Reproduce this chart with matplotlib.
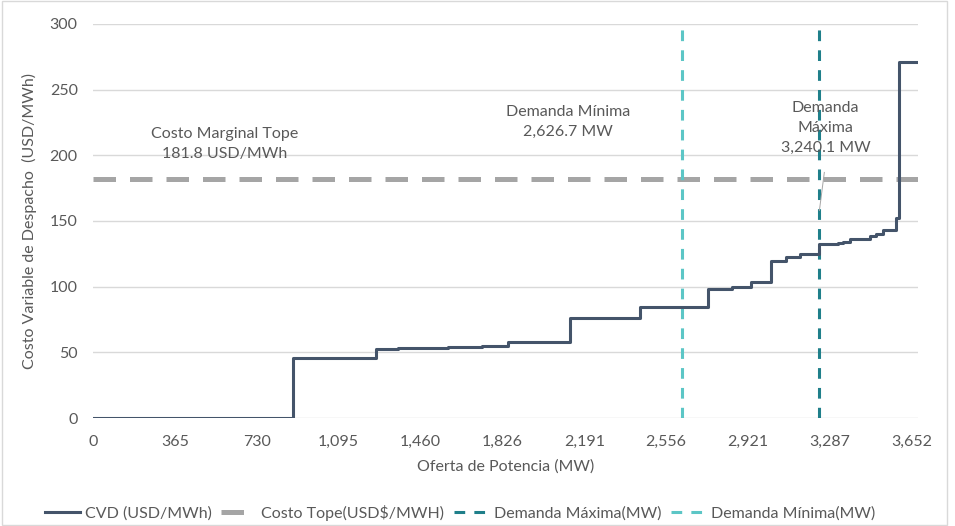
import matplotlib.pyplot as plt
from matplotlib.ticker import FuncFormatter

# step curve (MW, USD/MWh)
oferta = [0, 893, 1262, 1361, 1584, 1733, 1852, 2127, 2442, 2743, 2848, 2937,
          3023, 3093, 3152, 3238, 3323, 3345, 3375, 3467, 3494, 3523, 3583,
          3593, 3680]
cvd = [0, 45.4, 52.3, 53.5, 54.3, 55.1, 57.6, 75.9, 84.3, 98.0, 100.0, 103.3,
       119.5, 122.3, 124.6, 132.2, 133.0, 134.2, 136.3, 138.8, 139.9, 143.0,
       152.0, 271.0, 271.0]

costo_tope = 181.8
demanda_min = 2626.7
demanda_max = 3240.1
x_ticks = [0, 365, 730, 1095, 1460, 1826, 2191, 2556, 2921, 3287, 3652]

plt.rcParams['font.family'] = ['Lato', 'DejaVu Sans']
txt = '#595959'
fs = 11.5

fig = plt.figure(figsize=(9.55, 5.26), dpi=100)
ax = fig.add_axes([0.0974, 0.2053, 0.8639, 0.7491])

ax.step(oferta, cvd, where='post', color='#44546A', lw=2.2,
        label='CVD (USD/MWh)', zorder=4)
ax.plot([0, oferta[-1]], [costo_tope, costo_tope], color='#A5A5A5', lw=3.6,
        dashes=(4.5, 2.8), label='Costo Tope(USD$/MWH)', zorder=3)
ax.plot([demanda_max, demanda_max], [0, 300], color='#1F7F8A', lw=2.2,
        dashes=(3.5, 3), label='Demanda Máxima(MW)', zorder=3)
ax.plot([demanda_min, demanda_min], [0, 300], color='#5CC6C6', lw=2.2,
        dashes=(3.5, 3), label='Demanda Mínima(MW)', zorder=3)

ax.set_xlim(0, 3680)
ax.set_ylim(0, 300)
ax.set_xticks(x_ticks)
ax.xaxis.set_major_formatter(FuncFormatter(lambda v, p: f'{v:,.0f}'))
ax.set_yticks(range(0, 301, 50))
ax.grid(axis='y', color='#D9D9D9', lw=1)
ax.set_axisbelow(True)
for s in ax.spines.values():
    s.set_visible(False)
ax.tick_params(length=0, labelsize=fs, labelcolor=txt)
ax.tick_params(axis='x', pad=12)
ax.tick_params(axis='y', pad=11)

ax.set_xlabel('Oferta de Potencia (MW)', fontsize=fs, color=txt, labelpad=8)
ax.set_ylabel('Costo Variable de Despacho  (USD/MWh)', fontsize=fs,
              color=txt, labelpad=9)

# annotations
ax.text(585, 208.5, f'Costo Marginal Tope\n{costo_tope} USD/MWh', ha='center',
        va='center', fontsize=fs, color=txt, linespacing=1.55)
ax.text(2118, 225.4, f'Demanda Mínima\n{demanda_min:,.1f} MW', ha='center',
        va='center', fontsize=fs, color=txt, linespacing=1.55)
ax.text(3268, 220.8, f'Demanda\nMáxima\n{demanda_max:,.1f} MW', ha='center',
        va='center', fontsize=fs, color=txt, linespacing=1.55)
ax.plot([3262, 3240], [187, 158], color='#A5A5A5', lw=0.7, zorder=5)

ax.legend(loc='center', bbox_to_anchor=(0.445, -0.24), ncol=4, frameon=False,
          fontsize=fs, labelcolor=txt, handlelength=2.2, handletextpad=0.3,
          columnspacing=0.6)

fig.patches.append(plt.Rectangle((0.002, 0.002), 0.99, 0.996,
                                 transform=fig.transFigure, fill=False,
                                 edgecolor='#D9D9D9', lw=1))

fig.savefig('out.png', dpi=100)
